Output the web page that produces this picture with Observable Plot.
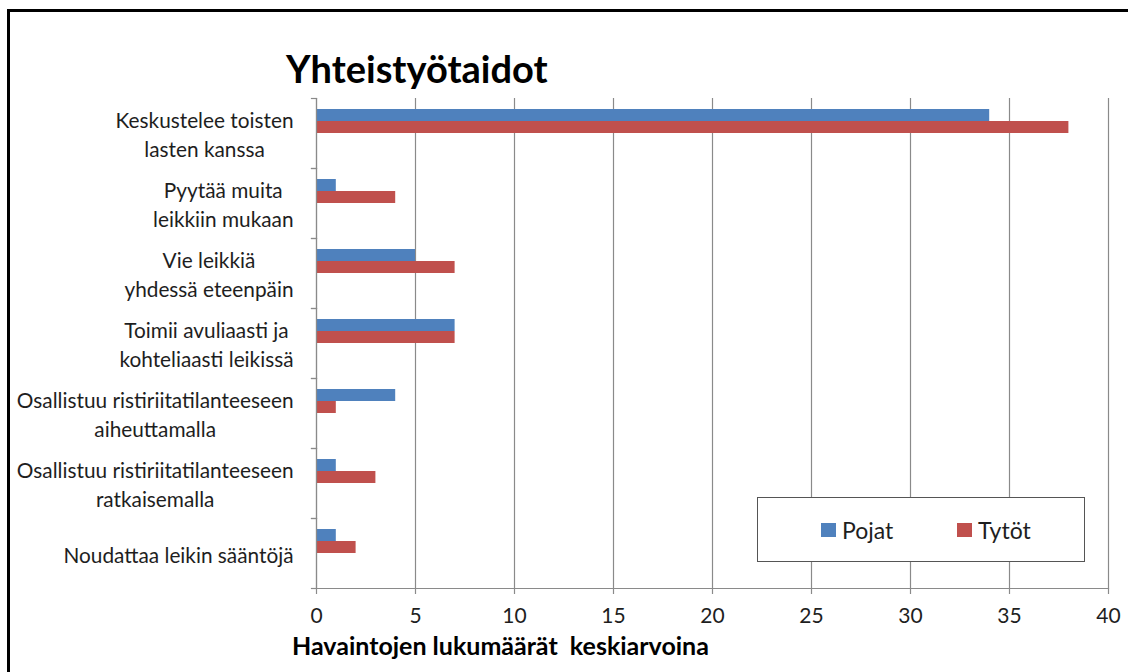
<!DOCTYPE html>
<html>
<head>
<meta charset="utf-8">
<script src="https://cdn.jsdelivr.net/npm/d3@7"></script>
<script src="https://cdn.jsdelivr.net/npm/@observablehq/plot@0.6"></script>
<style>
  html, body { margin: 0; padding: 0; background: #fff; overflow: hidden; }
  #wrap { position: relative; width: 1128px; height: 672px; font-family: Lato, "Open Sans", sans-serif; color: #1e1e1e; }
  #border { position: absolute; left: 7px; top: 9px; width: 1300px; height: 900px; border: 3px solid #000; box-sizing: border-box; }
  #chart { position: absolute; left: 0; top: 0; }
  #title { position: absolute; left: 286px; top: 49px; font-size: 38px; font-weight: 700; line-height: 1; color: #000; }
  #xtitle { position: absolute; left: 292px; top: 633px; font-size: 25px; font-weight: 700; line-height: 1; color: #000; white-space: pre; }
  #legend { position: absolute; left: 757px; top: 497px; width: 328px; height: 65px; box-sizing: border-box; border: 1.5px solid #555; background: #fff; }
  .item { position: absolute; top: 0; height: 100%; display: flex; align-items: center; font-size: 23px; color: #1e1e1e; }
  .sw { width: 15px; height: 14px; margin-right: 6px; }
</style>
</head>
<body>
<div id="wrap">
  <div id="border"></div>
  <div id="chart"></div>
  <div id="title"></div>
  <div id="xtitle"></div>
  <div id="legend"></div>
</div>
<script>
// ---- data ----
const categories = [
  "Keskustelee toisten\nlasten kanssa",
  "Pyytää muita\nleikkiin mukaan",
  "Vie leikkiä\nyhdessä eteenpäin",
  "Toimii avuliaasti ja\nkohteliaasti leikissä",
  "Osallistuu ristiriitatilanteeseen\naiheuttamalla",
  "Osallistuu ristiriitatilanteeseen\nratkaisemalla",
  "Noudattaa leikin sääntöjä"
];
const pojat = [34, 1, 5, 7, 4, 1, 1];
const tytot = [38, 4, 7, 7, 1, 3, 2];
const seriesNames = ["Pojat", "Tytöt"];
const seriesColors = ["#4F81BD", "#C0504D"];
const xTicks = [0, 5, 10, 15, 20, 25, 30, 35, 40];
const chartTitle = "Yhteistyötaidot";
const xAxisTitle = "Havaintojen lukumäärät  keskiarvoina";

// ---- table ----
const table = categories.flatMap((c, i) => [
  {category: c, series: seriesNames[0], value: pojat[i]},
  {category: c, series: seriesNames[1], value: tytot[i]}
]);

const W = 1128, H = 672;
const mL = 316, mR = 20, mT = 96, mB = 82;
const plotW = W - mL - mR;
const grey = "#8a8a8a";
const labelFont = 20.8;

const ctx = document.createElement("canvas").getContext("2d");
ctx.font = `${labelFont}px Lato`;
const blockWidth = s => Math.max(...s.split("\n").map(l => ctx.measureText(l).width));

const labelMarks = categories.map(c => Plot.text([c], {
  fy: d => d, text: d => d, frameAnchor: "left", textAnchor: "middle",
  dx: -(23 + blockWidth(c) / 2), lineHeight: 1.35, fontSize: labelFont, fill: "#1e1e1e"
}));

const chart = Plot.plot({
  width: W, height: H,
  marginLeft: mL, marginRight: mR, marginTop: mT, marginBottom: mB,
  style: {fontFamily: "Lato, sans-serif", fontSize: "20px", background: "transparent", color: "#1e1e1e", overflow: "visible"},
  x: {domain: [0, 40]},
  fy: {domain: categories, padding: 0, axis: null, label: null},
  y: {domain: ["Pojat", "Tytöt", "_3", "_4"], paddingInner: 0, paddingOuter: 0.715, axis: null},
  color: {domain: seriesNames, range: seriesColors},
  marks: [
    Plot.gridX(xTicks, {stroke: grey, strokeOpacity: 1, strokeWidth: 1.2}),
    Plot.barX(table, {fy: "category", y: "series", x: "value", fill: "series"}),
    Plot.ruleX([0], {stroke: grey, strokeWidth: 1.2}),
    Plot.frame({anchor: "top", insetLeft: -5, insetRight: plotW, stroke: grey, strokeWidth: 1.2}),
    Plot.frame({anchor: "bottom", insetLeft: -5, insetRight: plotW, stroke: grey, strokeWidth: 1.2}),
    Plot.frame({anchor: "bottom", facetAnchor: "bottom", stroke: grey, strokeWidth: 1.2}),
    Plot.axisX(xTicks, {tickSize: 6, tickPadding: 14, stroke: grey, strokeWidth: 1.2, fill: "#1e1e1e", fontSize: 21, label: null}),
    ...labelMarks
  ]
});
document.getElementById("chart").appendChild(chart);

document.getElementById("title").textContent = chartTitle;
document.getElementById("xtitle").textContent = xAxisTitle;

const legend = document.getElementById("legend");
const itemLeft = [63, 199];
seriesNames.forEach((s, i) => {
  const it = document.createElement("div");
  it.className = "item";
  it.style.left = itemLeft[i] + "px";
  const sw = document.createElement("div");
  sw.className = "sw";
  sw.style.background = seriesColors[i];
  it.appendChild(sw);
  it.appendChild(document.createTextNode(s));
  legend.appendChild(it);
});
</script>
</body>
</html>
